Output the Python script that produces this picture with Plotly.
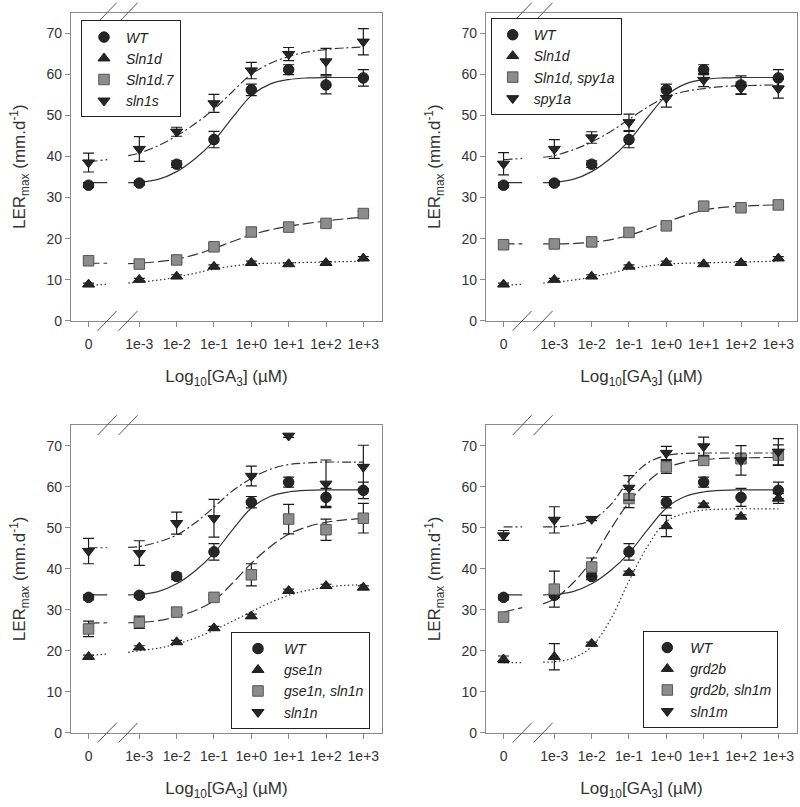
import plotly.graph_objects as go

# ---------------- data ----------------
DOSE_LABELS = ["0", "1e-3", "1e-2", "1e-1", "1e+0", "1e+1", "1e+2", "1e+3"]
DOSE_LOG = [-3, -2, -1, 0, 1, 2, 3]          # log10 of the non-zero doses

# fitted-curve sample points (log10 dose) right of the axis break
CURVE_LOG = [-3.3, -3, -2.5, -2, -1.5, -1, -0.5, 0, 0.5, 1, 1.5, 2, 2.5, 3]

# measured means / errors, one value per dose in DOSE_LABELS order
WT = [33.0, 33.5, 38.1, 44.1, 56.2, 61.1, 57.4, 59.1]
WT_ERR = [0.6, 0.5, 0.8, 2.0, 1.4, 1.2, 2.2, 2.0]
SLN1D = [8.85, 10.0, 10.8, 13.2, 14.1, 13.8, 14.1, 15.2]
SLN1D_ERR = [0.3, 0.3, 0.4, 0.4, 0.4, 0.3, 0.3, 0.4]
SLN1D7 = [14.6, 13.8, 14.8, 18.0, 21.6, 22.8, 23.7, 26.1]
SLN1D7_ERR = [0.6, 0.6, 0.6, 0.6, 0.7, 0.6, 0.7, 0.6]
SLN1S = [38.5, 41.8, 46.0, 52.9, 60.9, 64.9, 63.1, 67.9]
SLN1S_ERR = [2.3, 3.0, 1.1, 2.2, 2.0, 1.6, 3.2, 3.2]
SLN1D_SPY1A = [18.5, 18.7, 19.2, 21.5, 23.1, 27.9, 27.5, 28.2]
SLN1D_SPY1A_ERR = [0.5, 0.5, 0.8, 0.9, 0.9, 0.8, 0.6, 0.8]
SPY1A = [38.2, 41.8, 44.6, 48.3, 54.2, 58.6, 56.6, 56.5]
SPY1A_ERR = [2.7, 2.3, 1.4, 2.0, 2.2, 1.6, 1.5, 2.3]
GSE1N = [18.5, 20.8, 22.1, 25.5, 28.4, 34.6, 35.8, 35.4]
GSE1N_ERR = [0.4, 0.4, 0.4, 0.4, 0.5, 0.4, 0.4, 0.4]
GSE1N_SLN1N = [25.3, 26.9, 29.4, 33.0, 38.5, 52.1, 49.5, 52.3]
GSE1N_SLN1N_ERR = [1.9, 1.5, 0.8, 0.5, 2.7, 3.6, 2.6, 3.6]
SLN1N = [44.3, 43.8, 51.1, 52.3, 62.6, 72.4, 60.7, 64.8]
SLN1N_ERR = [3.1, 3.0, 2.7, 4.6, 2.4, 0.4, 5.8, 5.3]
GRD2B = [17.9, 18.5, 21.7, 39.0, 50.4, 55.5, 52.7, 57.1]
GRD2B_ERR = [0.8, 3.2, 0.4, 0.4, 2.6, 0.5, 0.4, 1.2]
GRD2B_SLN1M = [28.2, 35.0, 40.4, 57.1, 64.8, 66.4, 66.8, 67.7]
GRD2B_SLN1M_ERR = [0.8, 4.4, 2.2, 2.2, 1.6, 0.6, 0.8, 2.5]
SLN1M = [48.1, 51.9, 52.1, 59.7, 68.2, 69.8, 66.4, 68.5]
SLN1M_ERR = [1.2, 3.2, 0.4, 3.0, 1.6, 2.3, 3.6, 3.2]

# fitted curves: [value at dose 0, value just before break] + values at CURVE_LOG
WT_FIT = [33.6, 33.6, 33.6, 33.7, 34.4, 36.3, 39.5, 43.8, 49.5, 54.8, 57.6, 58.7, 59.1, 59.2, 59.2, 59.2]
SLN1D_FIT = [8.6, 8.9, 9.2, 9.4, 9.9, 10.6, 11.6, 12.6, 13.3, 13.8, 14.0, 14.1, 14.2, 14.3, 14.4, 14.5]
SLN1D7_FIT = [14.0, 14.0, 13.9, 14.0, 14.4, 15.0, 16.1, 17.6, 19.3, 20.9, 22.1, 23.0, 23.7, 24.3, 24.8, 25.2]
SLN1S_FIT = [38.7, 39.2, 40.2, 40.8, 42.6, 45.0, 48.0, 51.5, 55.8, 60.0, 62.6, 64.3, 65.4, 66.0, 66.4, 66.6]
SLN1D_SPY1A_FIT = [18.7, 18.7, 18.7, 18.7, 18.8, 19.1, 19.7, 20.8, 22.3, 24.0, 25.6, 26.9, 27.6, 27.9, 28.1, 28.2]
SPY1A_FIT = [39.2, 39.5, 39.8, 40.2, 41.6, 43.5, 46.0, 49.0, 52.0, 54.5, 55.8, 56.5, 57.0, 57.2, 57.3, 57.4]
GSE1N_FIT = [18.8, 19.2, 19.6, 20.0, 20.6, 21.6, 23.1, 25.0, 27.2, 29.5, 31.7, 33.5, 34.7, 35.5, 35.9, 36.1]
GSE1N_SLN1N_FIT = [26.7, 26.8, 26.8, 26.9, 27.3, 28.3, 29.8, 32.2, 36.5, 41.3, 45.3, 48.4, 50.2, 51.3, 51.9, 52.2]
SLN1N_FIT = [45.1, 45.1, 45.2, 45.4, 46.5, 48.2, 51.2, 55.0, 59.0, 62.0, 64.2, 65.4, 65.8, 66.0, 66.0, 66.0]
GRD2B_FIT = [17.1, 17.1, 17.2, 17.3, 18.2, 21.0, 27.5, 37.0, 45.5, 51.5, 53.5, 54.3, 54.5, 54.6, 54.6, 54.6]
GRD2B_SLN1M_FIT = [29.4, 30.5, 31.4, 32.6, 36.5, 42.0, 49.5, 56.2, 61.2, 64.5, 66.0, 66.6, 66.9, 67.0, 67.1, 67.1]
SLN1M_FIT = [50.2, 50.2, 50.2, 50.2, 50.6, 51.8, 55.5, 61.5, 65.8, 67.6, 68.1, 68.2, 68.2, 68.2, 68.2, 68.2]

PANELS = [
    [("WT", WT, WT_ERR, WT_FIT), ("Sln1d", SLN1D, SLN1D_ERR, SLN1D_FIT),
     ("Sln1d.7", SLN1D7, SLN1D7_ERR, SLN1D7_FIT), ("sln1s", SLN1S, SLN1S_ERR, SLN1S_FIT)],
    [("WT", WT, WT_ERR, WT_FIT), ("Sln1d", SLN1D, SLN1D_ERR, SLN1D_FIT),
     ("Sln1d, spy1a", SLN1D_SPY1A, SLN1D_SPY1A_ERR, SLN1D_SPY1A_FIT), ("spy1a", SPY1A, SPY1A_ERR, SPY1A_FIT)],
    [("WT", WT, WT_ERR, WT_FIT), ("gse1n", GSE1N, GSE1N_ERR, GSE1N_FIT),
     ("gse1n, sln1n", GSE1N_SLN1N, GSE1N_SLN1N_ERR, GSE1N_SLN1N_FIT), ("sln1n", SLN1N, SLN1N_ERR, SLN1N_FIT)],
    [("WT", WT, WT_ERR, WT_FIT), ("grd2b", GRD2B, GRD2B_ERR, GRD2B_FIT),
     ("grd2b, sln1m", GRD2B_SLN1M, GRD2B_SLN1M_ERR, GRD2B_SLN1M_FIT), ("sln1m", SLN1M, SLN1M_ERR, SLN1M_FIT)],
]

# ---------------- layout / style ----------------
W, H = 800, 807
ZERO_POS = -4.36          # where dose 0 is drawn (left of the break)
BREAK_L, BREAK_R = -3.86, -3.30
XMIN, XMAX = -4.83, 3.5
YMIN, YMAX = 0, 75
FONT = "Liberation Sans, Arial, sans-serif"
FRAME = "#8a8a8a"
INK = "#262626"

x_pos = [ZERO_POS] + DOSE_LOG
curve_x = [ZERO_POS, BREAK_L, None] + CURVE_LOG

STYLES = [
    dict(symbol="circle", color=INK, line="#1a1a1a", dash="solid"),
    dict(symbol="triangle-up", color=INK, line="#1a1a1a", dash="1.5px,2.5px"),
    dict(symbol="square", color="#8c8c8c", line="#555555", dash="11px,4px"),
    dict(symbol="triangle-down", color=INK, line="#1a1a1a", dash="9px,3px,2px,3px"),
]

XDOM = [[71 / W, 382 / W], [486 / W, 797 / W]]
YDOM = [[1 - 324 / H, 1 - 12.7 / H], [1 - 740 / H, 1 - 429.4 / H]]

LEGENDS = [
    dict(x=81 / W, y=1 - 20.7 / H, itemwidth=34),
    dict(x=490.7 / W, y=1 - 18.3 / H, itemwidth=32),
    dict(x=231 / W, y=1 - 638.3 / H, itemwidth=42),
    dict(x=643.3 / W, y=1 - 637.3 / H, itemwidth=36),
]

fig = go.Figure()
layout = dict(width=W, height=H, margin=dict(l=0, r=0, t=0, b=0),
              paper_bgcolor="white", plot_bgcolor="white",
              font=dict(family=FONT, color="#333333", size=14), shapes=[])

for p, series in enumerate(PANELS):
    sfx = "" if p == 0 else str(p + 1)
    xa, ya = "x" + sfx, "y" + sfx
    lg = "legend" + sfx
    # fitted curves first
    for k, (name, vals, errs, fit) in enumerate(series):
        st = STYLES[k]
        fy = fit[:2] + [None] + fit[2:]
        fig.add_trace(go.Scatter(x=curve_x, y=fy, mode="lines", xaxis=xa, yaxis=ya,
                                 line=dict(color="#333333", width=1.2, dash=st["dash"], shape="spline"),
                                 showlegend=False, hoverinfo="skip", legend=lg))
    for k, (name, vals, errs, fit) in enumerate(series):
        st = STYLES[k]
        fig.add_trace(go.Scatter(x=x_pos, y=vals, mode="markers", xaxis=xa, yaxis=ya,
                                 name="<i>" + name + "</i>", legend=lg,
                                 marker=dict(symbol=st["symbol"], size=10.5, color=st["color"],
                                             line=dict(color=st["line"], width=1)),
                                 error_y=dict(type="data", array=errs, visible=True,
                                              color="#1a1a1a", thickness=1.2, width=5.5)))
    col, row = p % 2, p // 2
    axis_common = dict(showline=True, linecolor=FRAME, linewidth=1.2, mirror=True,
                       ticks="outside", ticklen=5, tickcolor=FRAME, tickwidth=1,
                       showgrid=False, zeroline=False,
                       tickfont=dict(size=14, color="#333333", family=FONT))
    layout["xaxis" + sfx] = dict(axis_common, domain=XDOM[col], anchor=ya, range=[XMIN, XMAX],
                                 tickmode="array", tickvals=x_pos, ticktext=DOSE_LABELS,
                                 ticklabelstandoff=5,
                                 title=dict(text="Log<sub>10</sub>[GA<sub>3</sub>] (µM)",
                                            font=dict(size=17, color="#333333"), standoff=19))
    layout["yaxis" + sfx] = dict(axis_common, domain=YDOM[row], anchor=xa, range=[YMIN, YMAX],
                                 tickmode="array", tickvals=list(range(0, 71, 10)),
                                 title=dict(text="LER<sub>max</sub> (mm.d<sup>-1</sup>)",
                                            font=dict(size=17, color="#333333"), standoff=16))
    L = LEGENDS[p]
    layout[lg] = dict(x=L["x"], y=L["y"], xanchor="left", yanchor="top",
                      bgcolor="white", bordercolor="#222222", borderwidth=1,
                      itemwidth=L["itemwidth"],
                      font=dict(size=14, color="#222222", family=FONT))
    # axis-break marks on bottom and top frame lines
    hw = 9.5 / 311.0
    hh = 10.0 / 311.3
    for bx in (BREAK_L, BREAK_R):
        xd = (bx - XMIN) / (XMAX - XMIN)
        for yd in (0.0, 1.0):
            layout["shapes"].append(dict(type="line", xref=xa + " domain", yref=ya + " domain",
                                         x0=xd - hw, y0=yd - hh, x1=xd + hw, y1=yd + hh,
                                         line=dict(color="#555555", width=1)))

fig.update_layout(**layout)
fig.write_html("out.html", config={"displayModeBar": False},
               post_script="document.body.style.margin='0px';document.body.style.padding='0px';")
